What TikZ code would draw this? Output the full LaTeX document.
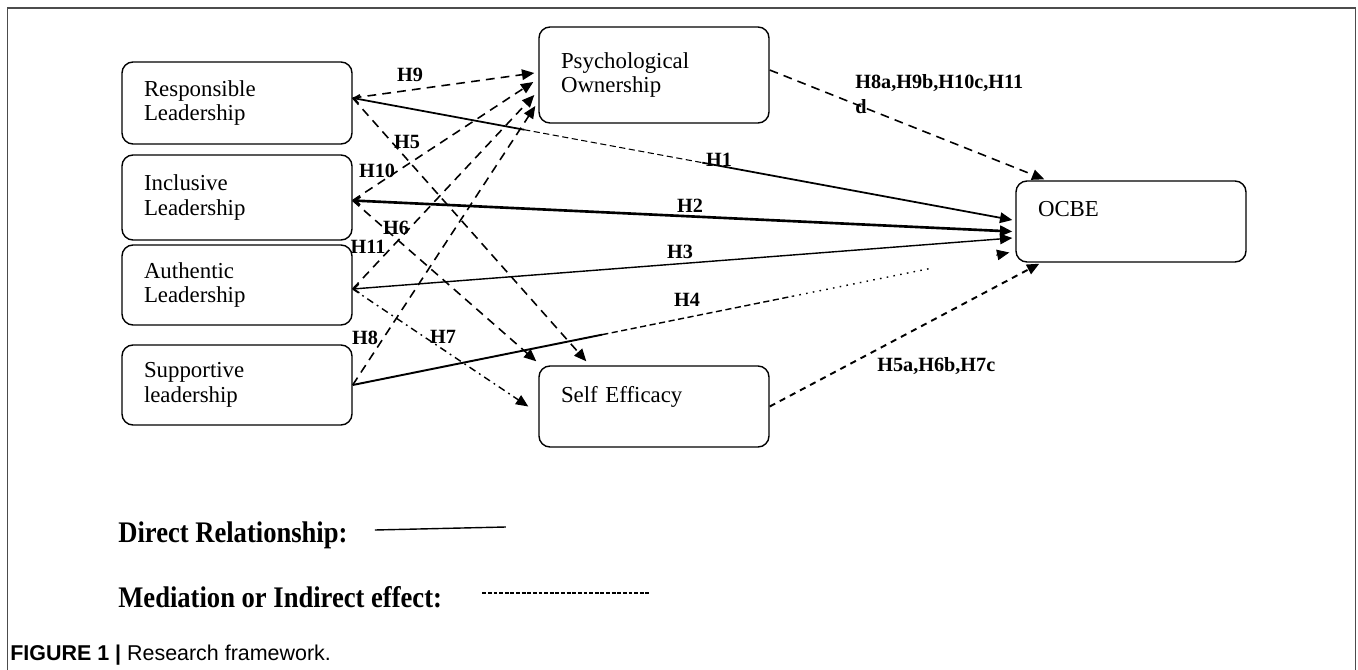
\documentclass[tikz,border=0pt]{standalone}
\usepackage{fontspec}
\setmainfont{Liberation Serif}
\setsansfont{Liberation Sans}
\usepackage{tikz}
\usetikzlibrary{positioning}
\usetikzlibrary{calc,arrows.meta}

\tikzset{
	box/.style={draw, line width=0.8pt, rounded corners=0.22cm, align=left,
		text width=3.72cm, inner xsep=0.44cm, inner ysep=0pt,
		font=\fontsize{13}{14.2}\selectfont},
	hyp/.style={inner sep=0pt, font=\fontsize{11.5}{14.2}\selectfont\bfseries},
	legend/.style={inner sep=0pt, font=\fontsize{17}{20}\selectfont\bfseries},
	med/.style={line width=0.9pt, dash pattern=on 5pt off 3.5pt},
	headarrow/.style={-{Triangle[length=7pt,width=6pt]}},
	backarrow/.style={{Straight Barb[length=3pt,width=5pt]}-{Triangle[length=7pt,width=6pt]}},
}

\begin{document}
\begin{tikzpicture}
	
	% ---------------------
	% Frame
	\useasboundingbox (0.00cm,0.00cm) rectangle (27.16cm,-13.40cm);
	\draw[black!70, line width=0.8pt] (0.15cm,-13.40cm) -- (0.15cm,-0.16cm) -- (27.11cm,-0.16cm) -- (27.11cm,-13.40cm);
	
	% ---------------------
	% Leadership styles
	\node[box, minimum height=1.64cm] (Resp) at (4.74cm,-2.06cm) {Responsible\\Leadership};
	\node[box, minimum height=1.70cm] (Incl) at (4.74cm,-3.95cm) {Inclusive\\Leadership};
	\node[box, minimum height=1.60cm] (Auth) at (4.74cm,-5.70cm) {Authentic\\Leadership};
	\node[box, minimum height=1.60cm] (Supp) at (4.74cm,-7.70cm) {Supportive\\leadership};
	
	% ---------------------
	% Mediators & outcome
	\node[box, minimum height=1.92cm] (Psych) at (13.08cm,-1.50cm) {Psychological\\Ownership};
	\node[box, minimum height=1.62cm] (Self) at (13.08cm,-8.13cm) {Self Efficacy\\\mbox{}};
	\node[box, minimum height=1.62cm] (OCBE) at (22.62cm,-4.43cm) {OCBE\\\mbox{}};
	
	% ---------------------
	% Start & end points
	\path (Resp.east) +(0.00cm,+0.10cm) coordinate (RespOut);
	\path (Incl.east) +(0.00cm,-0.06cm) coordinate (InclOut);
	\path (Auth.east) +(0.00cm,-0.08cm) coordinate (AuthOut);
	\path (Supp.east) +(0.00cm,0.00cm) coordinate (SuppOut);
	\path (Psych.east) +(0.00cm,+0.10cm) coordinate (PsychOut);
	
	\path (Psych.west) +(-0.08cm,+0.04cm) coordinate (PsychInNine);
	\path (Psych.west) +(-0.10cm,-0.14cm) coordinate (PsychInTen);
	\path (Psych.west) +(-0.08cm,-0.40cm) coordinate (PsychInEleven);
	\path (Psych.west) +(-0.06cm,-0.62cm) coordinate (PsychInEight);
	
	\path (Self.north west) +(-0.04cm,+0.08cm) coordinate (SelfInSix);
	\path (Self.north west) +(+0.96cm,+0.08cm) coordinate (SelfInFive);
	\path (Self.west) +(-0.20cm,0.00cm) coordinate (SelfInSeven);
	
	\path (OCBE.west) +(-0.06cm,+0.03cm) coordinate (OcbeInOne);
	\path (OCBE.west) +(-0.06cm,-0.20cm) coordinate (OcbeInTwo);
	\path (OCBE.west) +(-0.06cm,-0.33cm) coordinate (OcbeInThree);
	\path (OCBE.west) +(-0.12cm,-0.62cm) coordinate (OcbeInFour);
	\path (OCBE.north west) +(+0.58cm,+0.02cm) coordinate (OcbeInPsych);
	\path (OCBE.south west) +(+0.48cm,-0.02cm) coordinate (OcbeInSelf);
	
	% ---------------------
	% Direct paths
	\path ($(RespOut)!0.26!(OcbeInOne)$) coordinate (OneA);
	\path ($(RespOut)!0.53!(OcbeInOne)$) coordinate (OneB);
	\draw[{Straight Barb[length=3pt,width=5pt]}-, line width=1.0pt] (RespOut) -- (OneA);
	\draw[line width=0.6pt, dash pattern=on 3.5pt off 2pt] (OneA) -- (OneB);
	\draw[headarrow, line width=1.0pt] (OneB) -- (OcbeInOne);
	
	\draw[backarrow, line width=1.5pt] (InclOut) -- (OcbeInTwo);
	\draw[backarrow, line width=0.8pt] (AuthOut) -- (OcbeInThree);
	
	\path ($(SuppOut)!0.38!(OcbeInFour)$) coordinate (FourA);
	\path ($(SuppOut)!0.67!(OcbeInFour)$) coordinate (FourB);
	\path ($(SuppOut)!0.88!(OcbeInFour)$) coordinate (FourC);
	\path ($(SuppOut)!0.98!(OcbeInFour)$) coordinate (FourD);
	\draw[line width=1.1pt] (SuppOut) -- (FourA);
	\draw[line width=0.8pt, dash pattern=on 3.5pt off 2pt] (FourA) -- (FourB);
	\draw[line width=0.8pt, dash pattern=on 0.9pt off 3pt] (FourB) -- (FourC);
	\draw[headarrow, line width=0.5pt] (FourD) -- (OcbeInFour);
	
	% ---------------------
	% Indirect paths
	\draw[med, headarrow] (RespOut) -- (PsychInNine);
	\draw[med, headarrow] (InclOut) -- (PsychInTen);
	\draw[med, headarrow] (AuthOut) -- (PsychInEleven);
	\draw[med, headarrow] (SuppOut) -- (PsychInEight);
	
	\draw[med, headarrow] (RespOut) -- (SelfInFive);
	\draw[med, headarrow] (InclOut) -- (SelfInSix);
	\draw[headarrow, line width=0.8pt, dash pattern=on 4pt off 2.5pt on 1pt off 2.5pt] (AuthOut) -- (SelfInSeven);
	
	\draw[med, headarrow] (PsychOut) -- (OcbeInPsych);
	\draw[headarrow, line width=1.1pt, dash pattern=on 3.5pt off 3pt] (Self.east) -- (OcbeInSelf);
	
	% ---------------------
	% Hypotheses
	\node[hyp] (LabNine) at (8.20cm,-1.50cm) {H9};
	\node[hyp] (LabFive) at (8.14cm,-2.84cm) {H5};
	\node[hyp] (LabTen) at (7.54cm,-3.42cm) {H10};
	\node[hyp] (LabSix) at (7.92cm,-4.56cm) {H6};
	\node[hyp] (LabEleven) at (7.36cm,-4.94cm) {H11};
	\node[hyp] (LabEight) at (7.30cm,-6.76cm) {H8};
	\node[hyp] (LabSeven) at (8.86cm,-6.74cm) {H7};
	\node[hyp] (LabOne) at (14.38cm,-3.20cm) {H1};
	\node[hyp] (LabTwo) at (13.80cm,-4.12cm) {H2};
	\node[hyp] (LabThree) at (13.60cm,-5.04cm) {H3};
	\node[hyp] (LabFour) at (13.74cm,-6.00cm) {H4};
	\node[hyp, anchor=west, align=left] (LabPsych) at (17.10cm,-1.88cm) {H8a,H9b,H10c,H11\\d};
	\node[hyp, anchor=west] (LabSelf) at (17.54cm,-7.32cm) {H5a,H6b,H7c};
	
	% ---------------------
	% Legend
	\node[legend, anchor=west] (LegDirect) at (2.36cm,-10.70cm) {\scalebox{0.89}[1]{Direct Relationship:}};
	\node[legend, anchor=west] (LegIndirect) at (2.36cm,-11.94cm) {\scalebox{0.89}[1]{Mediation or Indirect effect:}};
	\path (LegDirect.east) +(0.54cm,+0.10cm) coordinate (DirectA);
	\path (LegDirect.east) +(3.16cm,+0.16cm) coordinate (DirectB);
	\draw[line width=0.8pt] (DirectA) -- (DirectB);
	\path (LegIndirect.east) +(0.80cm,+0.08cm) coordinate (IndirectA);
	\path (LegIndirect.east) +(4.14cm,+0.08cm) coordinate (IndirectB);
	\draw[line width=0.6pt, dash pattern=on 2.2pt off 1pt] (IndirectA) -- (IndirectB);
	
	\node[anchor=west, inner sep=0pt, font=\sffamily\fontsize{12.2}{14}\selectfont] (Caption) at (0.20cm,-13.10cm) {\textbf{FIGURE 1 |} Research framework.};
	
\end{tikzpicture}
\end{document}
